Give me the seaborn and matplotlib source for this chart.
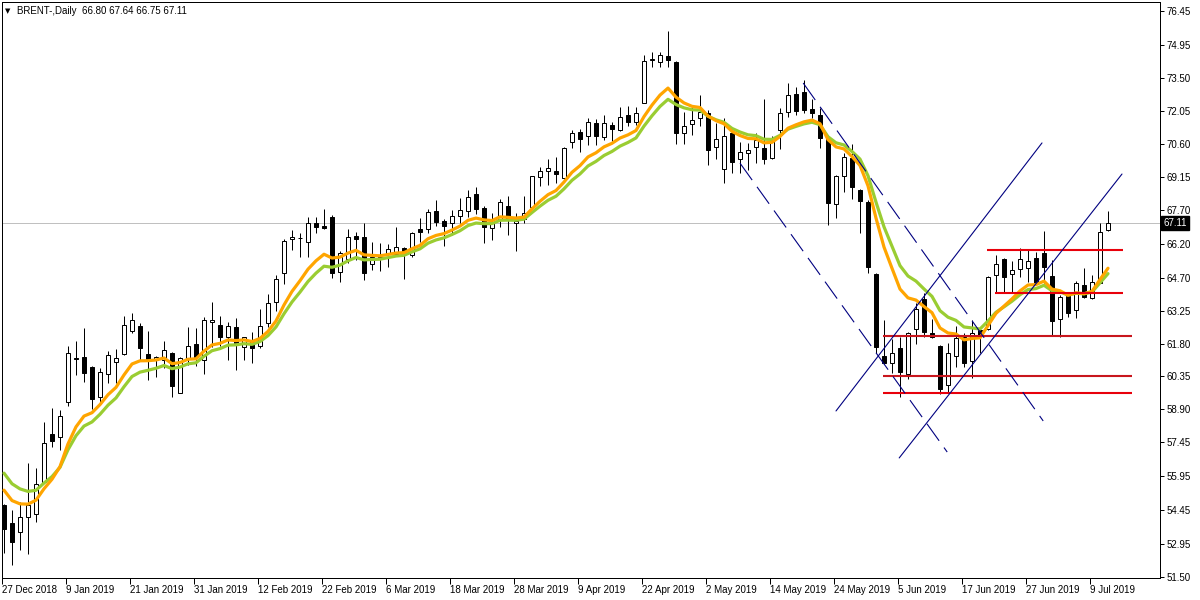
import numpy as np
import matplotlib
matplotlib.use("Agg")
import matplotlib.pyplot as plt
import matplotlib.transforms as mtransforms
import seaborn as sns

# ---------------- data ----------------
symbol_title = "BRENT-,Daily"
last_ohlc = ["66.80", "67.64", "66.75", "67.11"]

opens = [54.68, 53.89, 53.49, 54.15, 54.28, 55.69, 57.81, 57.67, 59.22, 61.18,
         61.20, 60.76, 59.44, 60.45, 60.98, 61.33, 62.35, 62.57, 61.33, 61.07,
         61.07, 61.38, 59.62, 61.16, 61.77, 61.07, 62.74, 62.61, 62.08, 62.52,
         61.64, 61.91, 61.69, 62.70, 63.62, 64.90, 66.40, 66.45, 66.27, 67.11,
         66.98, 67.37, 64.95, 65.52, 66.53, 66.49, 65.30, 65.63, 65.74, 65.74,
         66.00, 65.70, 66.84, 66.84, 67.64, 67.20, 67.11, 67.42, 67.64, 68.38,
         67.77, 66.89, 67.24, 67.86, 67.11, 67.28, 67.81, 69.13, 69.40, 69.40,
         69.09, 70.68, 71.12, 70.94, 71.51, 70.90, 71.43, 71.21, 71.87, 71.56,
         72.40, 74.30, 74.20, 74.47, 74.20, 71.07, 71.47, 71.73, 71.95, 70.46,
         69.49, 71.07, 69.93, 70.19, 70.46, 70.41, 69.97, 71.21, 72.00, 72.79,
         72.88, 72.13, 71.87, 70.90, 67.94, 69.18, 69.97, 68.56, 68.03, 64.86,
         61.25, 60.94, 61.60, 60.45, 62.43, 63.76, 62.26, 61.69, 59.97, 61.25,
         62.17, 61.03, 62.39, 62.43, 64.82, 65.52, 64.86, 65.08, 65.12, 65.56,
         65.78, 64.77, 62.87, 63.89, 63.27, 64.37, 63.80, 64.46, 66.80]
highs = [54.75, 54.46, 54.81, 56.53, 56.31, 58.34, 58.95, 58.86, 61.69, 61.91,
         62.48, 60.80, 60.72, 61.47, 61.55, 63.01, 63.14, 62.70, 62.35, 61.25,
         61.91, 61.45, 61.20, 62.52, 62.48, 62.96, 63.62, 63.01, 62.74, 62.92,
         62.10, 62.30, 63.32, 63.98, 64.82, 66.40, 66.80, 66.67, 67.37, 67.37,
         67.72, 67.46, 65.87, 66.84, 66.71, 67.11, 66.27, 66.22, 66.18, 66.93,
         66.05, 66.71, 67.33, 67.72, 68.12, 67.28, 67.68, 68.21, 68.56, 68.69,
         67.86, 67.55, 68.16, 68.30, 67.55, 68.30, 69.20, 69.57, 69.93, 70.02,
         70.46, 71.21, 71.25, 71.73, 71.69, 71.87, 71.56, 72.22, 72.26, 72.22,
         74.51, 74.64, 74.64, 75.57, 74.25, 72.00, 72.22, 72.75, 72.09, 71.51,
         71.73, 71.12, 70.68, 70.63, 71.07, 72.57, 70.94, 72.18, 73.28, 73.10,
         73.41, 72.57, 72.18, 71.00, 69.22, 70.19, 70.59, 68.60, 68.12, 64.90,
         62.83, 61.99, 62.08, 62.30, 63.58, 64.02, 62.87, 61.73, 61.82, 62.57,
         62.26, 62.83, 62.43, 64.77, 65.70, 65.56, 65.43, 66.00, 65.96, 65.83,
         66.75, 65.48, 63.93, 63.98, 64.55, 65.12, 64.82, 67.11, 67.64]
lows = [52.56, 52.03, 52.69, 52.52, 53.93, 55.65, 57.23, 57.10, 59.04, 60.41,
        60.10, 58.91, 59.22, 60.05, 60.05, 61.29, 62.26, 61.07, 60.19, 60.32,
        60.72, 59.44, 59.60, 60.85, 60.80, 60.45, 61.64, 61.69, 61.07, 60.63,
        61.07, 60.94, 61.60, 62.52, 63.23, 64.42, 65.92, 65.61, 65.61, 66.67,
        66.85, 64.68, 64.51, 65.34, 65.48, 64.60, 65.04, 65.00, 65.17, 65.72,
        64.64, 65.61, 66.27, 66.67, 66.97, 66.09, 66.58, 67.11, 67.37, 67.50,
        66.22, 66.36, 66.93, 66.58, 65.87, 67.11, 67.80, 68.74, 68.78, 68.87,
        69.05, 70.41, 70.24, 70.54, 70.54, 70.76, 70.72, 71.16, 71.38, 71.43,
        72.40, 73.98, 73.98, 73.98, 70.59, 70.59, 70.98, 71.38, 69.66, 69.93,
        68.87, 69.31, 69.31, 69.44, 69.75, 69.71, 69.93, 70.37, 71.78, 71.87,
        71.95, 71.73, 70.41, 67.02, 67.33, 68.47, 68.16, 66.67, 64.90, 61.38,
        60.89, 60.50, 59.44, 60.23, 61.77, 62.08, 62.04, 59.57, 59.66, 60.76,
        60.76, 60.27, 61.38, 62.39, 64.02, 64.02, 64.07, 64.73, 64.51, 64.42,
        64.46, 62.17, 62.08, 62.96, 62.92, 63.80, 63.76, 64.46, 66.75]
closes = [53.62, 53.05, 54.15, 54.68, 55.60, 57.41, 57.50, 58.60, 61.38, 61.14,
          60.50, 59.35, 60.54, 61.29, 61.16, 62.61, 62.83, 61.60, 61.07, 61.20,
          61.51, 59.92, 61.16, 61.69, 61.20, 62.83, 62.83, 62.08, 62.57, 61.82,
          62.08, 61.60, 62.57, 63.58, 64.64, 66.31, 66.49, 66.45, 67.11, 66.93,
          66.89, 64.90, 65.78, 66.49, 66.40, 64.90, 65.61, 65.58, 65.96, 66.05,
          65.87, 66.67, 66.71, 67.59, 67.15, 66.97, 67.42, 67.68, 68.25, 67.72,
          66.93, 67.11, 68.03, 67.28, 67.20, 67.55, 69.18, 69.40, 69.53, 69.27,
          70.41, 71.07, 70.81, 71.56, 70.94, 71.51, 71.25, 71.78, 71.56, 71.95,
          74.25, 74.34, 74.51, 74.29, 71.07, 71.38, 71.65, 72.00, 70.32, 70.81,
          70.94, 69.80, 70.24, 70.32, 70.76, 69.93, 70.76, 71.95, 72.75, 72.04,
          72.09, 71.95, 70.85, 67.99, 69.18, 70.02, 68.69, 68.08, 65.17, 61.64,
          60.94, 61.38, 60.54, 62.26, 63.32, 62.30, 62.08, 59.79, 61.38, 62.04,
          60.94, 62.26, 62.17, 64.73, 65.30, 64.73, 65.04, 65.52, 65.43, 64.46,
          65.17, 62.79, 63.84, 63.14, 64.46, 63.84, 64.51, 66.71, 67.11]

x_tick_labels = ["27 Dec 2018", "9 Jan 2019", "21 Jan 2019", "31 Jan 2019",
                 "12 Feb 2019", "22 Feb 2019", "6 Mar 2019", "18 Mar 2019",
                 "28 Mar 2019", "9 Apr 2019", "22 Apr 2019", "2 May 2019",
                 "14 May 2019", "24 May 2019", "5 Jun 2019", "17 Jun 2019",
                 "27 Jun 2019", "9 Jul 2019"]
x_tick_bars = list(range(0, 137, 8))
y_tick_labels = ["76.45", "74.95", "73.50", "72.05", "70.60", "69.15", "67.70",
                 "66.20", "64.70", "63.25", "61.80", "60.35", "58.90", "57.45",
                 "55.95", "54.45", "52.95", "51.50"]

# moving averages (indicator settings and their values at the first bar)
fast_ma_period = 9
slow_ma_period = 12
fast_ma_first = 55.34
slow_ma_first = 56.09

last_price = 67.11

# horizontal levels: price, first bar, last bar
level_prices = [65.91, 64.03, 62.13, 60.37, 59.62]
level_from = [122.9, 123.9, 109.9, 109.9, 109.9]
level_to = [139.9, 139.9, 141.0, 141.0, 141.0]

# trend lines: (bar, price) -> (bar, price)
dashed_from_bar = [99.9, 92.0]
dashed_from_price = [73.28, 69.75]
dashed_to_bar = [129.9, 117.9]
dashed_to_price = [58.39, 57.02]
solid_from_bar = [104.0, 111.9]
solid_from_price = [58.83, 56.76]
solid_to_bar = [129.75, 139.75]
solid_to_price = [70.64, 69.27]


def ema(values, first, period):
    a = 2.0 / (period + 1)
    out = [first]
    for v in values[1:]:
        out.append(out[-1] + a * (v - out[-1]))
    return np.array(out)


# ---------------- style ----------------
sns.set_style("white")
plt.rcParams['font.family'] = ['Liberation Sans', 'DejaVu Sans']
plt.rcParams['lines.scale_dashes'] = False

W, H = 1200, 600
fig = plt.figure(figsize=(12, 6), dpi=100)
fig.patch.set_facecolor("white")
ax = fig.add_axes([2 / W, 22 / H, 1158 / W, 576 / H])
ax.set_facecolor("white")

idx = np.arange(len(closes))
o = np.array(opens)
c = np.array(closes)
hi = np.array(highs)
lo = np.array(lows)
up = c >= o
body_bot = np.minimum(o, c)
body_h = np.maximum(np.abs(c - o), 0.001)

px = 0.72  # one pixel in points

# price line
ax.axhline(last_price, color="#c0c0c0", lw=px, zorder=1)

# candles
ax.vlines(idx, lo, hi, color="black", lw=px, zorder=2)
ax.bar(idx[up], body_h[up], bottom=body_bot[up], width=0.6, color="white",
       edgecolor="black", linewidth=px, zorder=3)
ax.bar(idx[~up], body_h[~up], bottom=body_bot[~up], width=0.6, color="black",
       edgecolor="black", linewidth=px, zorder=3)

# moving averages
fast = ema(closes, fast_ma_first, fast_ma_period)
slow = ema(closes, slow_ma_first, slow_ma_period)
sns.lineplot(x=idx, y=slow, color="#9acd32", lw=2.3, ax=ax, zorder=4, sort=False)
sns.lineplot(x=idx, y=fast, color="#ffa500", lw=2.3, ax=ax, zorder=5, sort=False)

# horizontal levels
level_colors = ["#e8000b", "#e8000b", "#c8161d", "#c8161d", "#e8000b"]
ax.hlines(level_prices, level_from, level_to, colors=level_colors, lw=1.5, zorder=6)

# trend lines
for xa, pa, xb, pb in zip(dashed_from_bar, dashed_from_price, dashed_to_bar, dashed_to_price):
    ax.plot([xa, xb], [pa, pb], color="#000080", lw=0.8, ls=(0, (15, 6)), zorder=6)
for xa, pa, xb, pb in zip(solid_from_bar, solid_from_price, solid_to_bar, solid_to_price):
    ax.plot([xa, xb], [pa, pb], color="#000080", lw=0.8, zorder=6)

# scales
ax.set_xlim(-0.25, 144.5)
ax.set_ylim(51.47, 76.85)

ax.set_xticks(np.array(x_tick_bars) - 0.2)
ax.set_xticklabels(x_tick_labels, ha="left")
ax.set_yticks([float(v) for v in y_tick_labels])
ax.set_yticklabels(y_tick_labels)
ax.yaxis.tick_right()
ax.tick_params(axis="y", which="both", right=True, left=False, labelright=True,
               labelleft=False, length=3, width=px, direction="out",
               labelsize=7, pad=2, colors="black")
ax.tick_params(axis="x", bottom=True, length=4, width=px, direction="out",
               labelsize=7, pad=1, colors="black")
for s in ax.spines.values():
    s.set_visible(True)
    s.set_color("black")
    s.set_linewidth(px)
ax.set_xlabel("")
ax.set_ylabel("")

# current price tag
trans = mtransforms.blended_transform_factory(ax.transAxes, ax.transData)
ax.text(1.0 + 3 / 1158, last_price, f"{last_price:.2f}", transform=trans,
        ha="left", va="center", fontsize=7, color="white", zorder=10,
        bbox=dict(boxstyle="square,pad=0.25", fc="black", ec="black"),
        clip_on=False)

# title
fig.text(5 / W, 1 - 11 / H, "\u25BC", fontsize=5, family=["DejaVu Sans"],
         ha="left", va="center", color="black")
fig.text(17 / W, 1 - 11 / H, symbol_title + "  " + " ".join(last_ohlc),
         fontsize=7, ha="left", va="center", color="black")

fig.savefig("out.png", dpi=100, facecolor="white")
